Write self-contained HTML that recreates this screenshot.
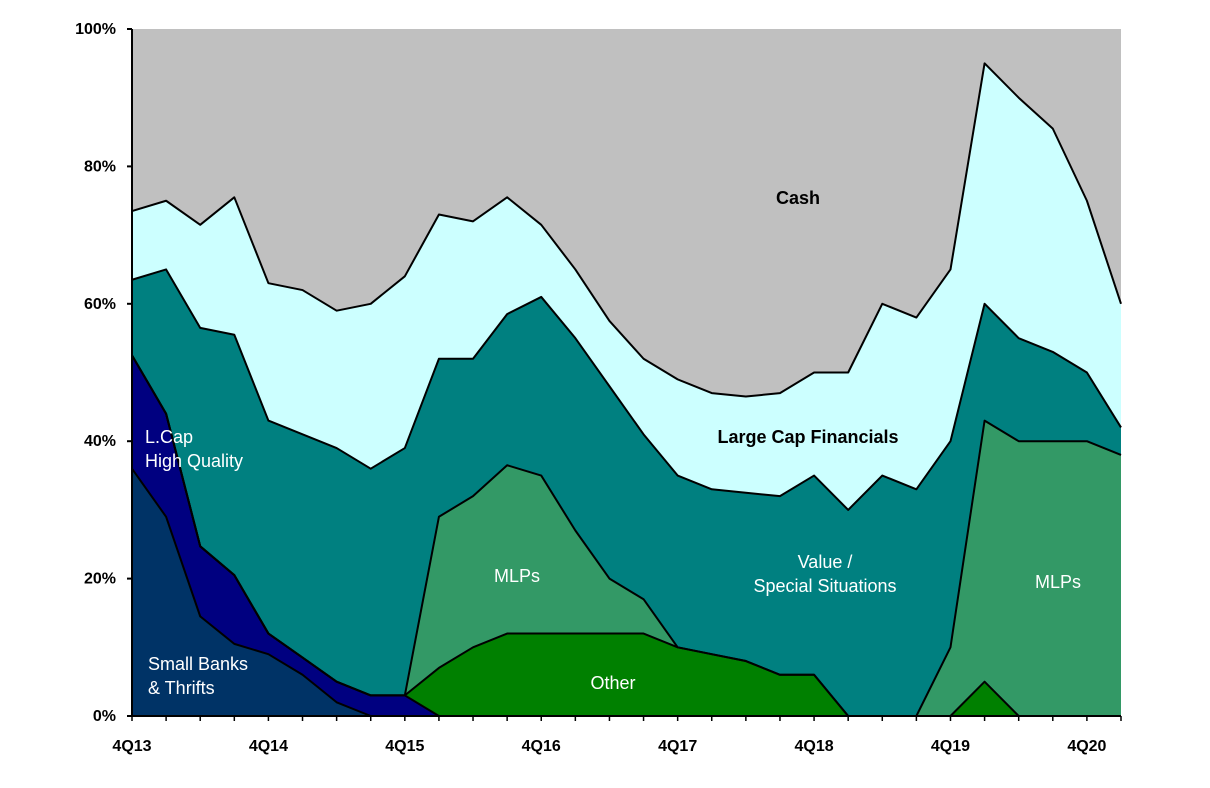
<!DOCTYPE html>
<html><head><meta charset="utf-8"><style>
body{margin:0;background:#fff;}
svg text{font-family:"Liberation Sans",sans-serif;}
</style></head><body>
<svg id="chart" width="1210" height="783" xmlns="http://www.w3.org/2000/svg"></svg>
<script>
const categories = ["4Q13","1Q14","2Q14","3Q14","4Q14","1Q15","2Q15","3Q15","4Q15","1Q16","2Q16","3Q16","4Q16","1Q17","2Q17","3Q17","4Q17","1Q18","2Q18","3Q18","4Q18","1Q19","2Q19","3Q19","4Q19","1Q20","2Q20","3Q20","4Q20","1Q21"];
const smallBanks = [36,29,14.5,10.5,9,6,2,0,0,0,0,0,0,0,0,0,0,0,0,0,0,0,0,0,0,0,0,0,0,0];
const lcapHQ = [16.5,15,10.2,10,3,2.5,3,3,3,0,0,0,0,0,0,0,0,0,0,0,0,0,0,0,0,0,0,0,0,0];
const other = [0,0,0,0,0,0,0,0,0,7,10,12,12,12,12,12,10,9,8,6,6,0,0,0,0,5,0,0,0,0];
const mlps = [0,0,0,0,0,0,0,0,0,22,22,24.5,23,15,8,5,0,0,0,0,0,0,0,0,10,38,40,40,40,38];
const valueSpecial = [11,21,31.8,35,31,32.5,34,33,36,23,20,22,26,28,28,24,25,24,24.5,26,29,30,35,33,30,17,15,13,10,4];
const largeCapFin = [10,10,15,20,20,21,20,24,25,21,20,17,10.5,10,9.5,11,14,14,14,15,15,20,25,25,25,35,35,32.5,25,18];
const yTicks = [0,20,40,60,80,100];
const xTickLabels = ["4Q13","4Q14","4Q15","4Q16","4Q17","4Q18","4Q19","4Q20"];

const NS="http://www.w3.org/2000/svg";
const svg=document.getElementById('chart');
const X0=132,X1=1121,Y0=716,Y1=29;
const xs=i=>X0+(X1-X0)*i/(categories.length-1);
const ys=v=>Y0-(Y0-Y1)*v/100;
function mk(t,a){const e=document.createElementNS(NS,t);for(const k in a)e.setAttribute(k,a[k]);svg.appendChild(e);return e;}

const cash = categories.map((c,i)=>100-smallBanks[i]-lcapHQ[i]-other[i]-mlps[i]-valueSpecial[i]-largeCapFin[i]);
const layers=[
 {n:'small-banks-area',d:smallBanks,c:'#003366'},
 {n:'lcap-high-quality-area',d:lcapHQ,c:'#000080'},
 {n:'other-area',d:other,c:'#008000'},
 {n:'mlps-area',d:mlps,c:'#339966'},
 {n:'value-special-area',d:valueSpecial,c:'#008080'},
 {n:'large-cap-financials-area',d:largeCapFin,c:'#CCFFFF'},
 {n:'cash-area',d:cash,c:'#C0C0C0',noLine:true}];
let base=categories.map(()=>0);
layers.forEach(L=>{
  const top=base.map((b,i)=>b+L.d[i]);
  let p='M'+categories.map((c,i)=>xs(i)+','+ys(top[i])).join(' L');
  for(let i=categories.length-1;i>=0;i--)p+=' L'+xs(i)+','+ys(base[i]);
  const e=mk('path',{d:p+'Z',fill:L.c,stroke:'none'});
  
  
  L.top=top;base=top;
});
layers.forEach(L=>{
  if(L.noLine)return;
  const e=mk('polyline',{points:categories.map((c,i)=>xs(i)+','+ys(L.top[i])).join(' '),fill:'none',stroke:'#000','stroke-width':2,'stroke-linejoin':'round'});
  
  
});
let ax=mk('line',{x1:X0,y1:Y1,x2:X0,y2:Y0,stroke:'#000','stroke-width':2});

ax=mk('line',{x1:X0,y1:Y0,x2:X1,y2:Y0,stroke:'#000','stroke-width':2});

yTicks.forEach(v=>{
  const t=mk('text',{x:116,y:ys(v)+5,'text-anchor':'end','font-size':16,'font-weight':'bold'});t.textContent=v+'%';
  
  const l=mk('line',{x1:X0-5,y1:ys(v),x2:X0,y2:ys(v),stroke:'#000','stroke-width':2});
  
});
categories.forEach((c,i)=>{
  const l=mk('line',{x1:xs(i),y1:Y0,x2:xs(i),y2:Y0+5,stroke:'#000','stroke-width':1.5});
  
});
xTickLabels.forEach(lb=>{
  const i=categories.indexOf(lb);
  const t=mk('text',{x:xs(i),y:751,'text-anchor':'middle','font-size':16,'font-weight':'bold'});t.textContent=lb;
  
});
const labels=[
 ['cash-label',798,204,['Cash'],'#000','bold'],
 ['large-cap-financials-label',808,443,['Large Cap Financials'],'#000','bold'],
 ['lcap-high-quality-label',145,443,['L.Cap','High Quality'],'#fff','normal','start'],
 ['small-banks-label',148,670,['Small Banks','& Thrifts'],'#fff','normal','start'],
 ['mlps-label-left',517,582,['MLPs'],'#fff','normal'],
 ['other-label',613,689,['Other'],'#fff','normal'],
 ['value-special-label',825,568,['Value /','Special Situations'],'#fff','normal'],
 ['mlps-label-right',1058,588,['MLPs'],'#fff','normal']];
labels.forEach(([n,x,y,lines,col,w,anc])=>{
  const t=mk('text',{x:x,y:y,'text-anchor':anc||'middle','font-size':18,fill:col,'font-weight':w});
  lines.forEach((s,k)=>{const ts=document.createElementNS(NS,'tspan');ts.setAttribute('x',x);ts.setAttribute('dy',k?24:0);ts.textContent=s;t.appendChild(ts);});
  
});
</script>
</body></html>
